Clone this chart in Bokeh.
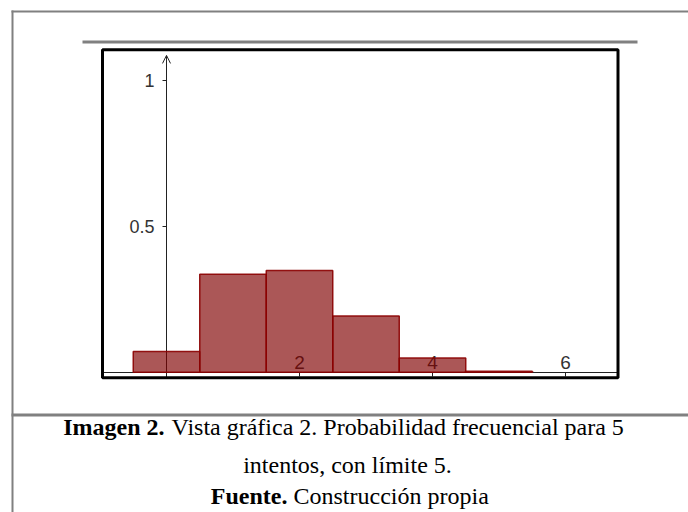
from bokeh.plotting import figure
from bokeh.models import (Range1d, LinearAxis, FixedTicker, Arrow, OpenHead,
                          BoxAnnotation, Label, NumeralTickFormatter)
from bokeh.embed import file_html
from bokeh.resources import INLINE

# ---- data ----
outcomes = [0, 1, 2, 3, 4, 5]
probabilities = [0.071, 0.336, 0.349, 0.193, 0.049, 0.003]
x_ticks = [2, 4, 6]
x_tick_labels = ["2", "4", "6"]
y_ticks = [0.5, 1]
y_tick_labels = ["0.5", "1"]
caption1_bold = "Imagen 2."
caption1_text = "Vista gráfica 2. Probabilidad frecuencial para 5"
caption2_text = "intentos, con límite 5."
caption3_bold = "Fuente."
caption3_text = "Construcción propia"

# ---- layout constants (pixels) ----
W, H = 688, 512
X0_PX, PX_PER_X = 166.0, 66.5      # pixel column of x = 0, pixels per x unit
Y0_PX, PX_PER_Y = 371.7, 291.7     # pixel row of y = 0, pixels per y unit
BOX_L, BOX_R, BOX_T, BOX_B = 102.0, 617.5, 49.3, 377.2
ARROW_TOP = 1.086

AXIS_COLOR = "#222222"
LABEL_COLOR = "#333333"
GRAY = "#808080"
TICK_FONT = "'Liberation Sans Narrow', 'Liberation Sans', sans-serif"


def px_to_x(px):
    return (px - X0_PX) / PX_PER_X


def py_to_y(py):
    return (Y0_PX - py) / PX_PER_Y


p = figure(width=W, height=H, min_border=0,
           x_range=Range1d(px_to_x(0), px_to_x(W)),
           y_range=Range1d(py_to_y(H), py_to_y(0)),
           x_axis_location=None, y_axis_location=None,
           output_backend="svg", toolbar_location=None)
for g in p.grid:
    g.visible = False
p.background_fill_color = "white"
p.border_fill_color = "white"
p.outline_line_color = None

# bars
p.vbar(x=outcomes, top=probabilities, bottom=0, width=1,
       fill_color="#800000", fill_alpha=0.66,
       line_color="#8B0000", line_alpha=0.9, line_width=1.5)

# y axis through x = 0
yaxis = LinearAxis(fixed_location=0, ticker=FixedTicker(ticks=y_ticks),
                   formatter=NumeralTickFormatter(format="0.[0]"),
                   major_label_overrides=dict(zip([float(t) for t in y_ticks], y_tick_labels)),
                   axis_line_color=None,
                   major_tick_out=4, major_tick_in=0, major_tick_line_color=AXIS_COLOR,
                   minor_tick_line_color=None, major_label_standoff=8,
                   major_label_text_font=TICK_FONT,
                   major_label_text_font_size="18px",
                   major_label_text_color=LABEL_COLOR, level="underlay")
p.add_layout(yaxis, "left")

# x axis through y = 0 (labels above the line, ticks downward), limited to the box
xaxis = LinearAxis(fixed_location=0, ticker=FixedTicker(ticks=x_ticks),
                   bounds=(px_to_x(BOX_L), px_to_x(BOX_R)),
                   major_label_overrides=dict(zip([float(t) for t in x_ticks], x_tick_labels)),
                   axis_line_color=AXIS_COLOR, axis_line_width=1,
                   major_tick_out=0, major_tick_in=4, major_tick_line_color=AXIS_COLOR,
                   minor_tick_line_color=None, major_label_standoff=3,
                   major_label_text_font=TICK_FONT,
                   major_label_text_font_size="19px",
                   major_label_text_color=LABEL_COLOR, level="underlay")
p.add_layout(xaxis, "above")

# arrow on the y axis
p.add_layout(Arrow(end=OpenHead(size=8, line_width=1, line_color=AXIS_COLOR),
                   x_start=0, y_start=py_to_y(BOX_B), x_end=0, y_end=ARROW_TOP,
                   line_width=1, line_color=AXIS_COLOR, level="underlay"))


def box(l, r, t, b, fill=GRAY, line=None, lw=0):
    p.add_layout(BoxAnnotation(left=l, right=r, top=t, bottom=b,
                               left_units="canvas", right_units="canvas",
                               top_units="canvas", bottom_units="canvas",
                               fill_color=fill, fill_alpha=1 if fill else 0,
                               line_color=line, line_width=lw, line_alpha=1,
                               level="overlay"))


# chart frame
box(BOX_L, BOX_R, BOX_T, BOX_B, fill=None, line="black", lw=3)
# page decorations
box(11, W, 10, 12)          # outer top border
box(11, 13, 10, H)          # outer left border
box(11, W, 413, 416)        # separator above caption
box(82, 637, 40, 43)        # gray rule above chart


def lab(x, y, text, bold=False, align="left"):
    p.add_layout(Label(x=x, y=y, x_units="canvas", y_units="canvas", text=text,
                       text_font="Liberation Serif", text_font_size="24px",
                       text_font_style="bold" if bold else "normal",
                       text_align=align, text_baseline="alphabetic",
                       text_color="black"))


lab(164, 426, caption1_bold, bold=True, align="right")
lab(171, 426, caption1_text)
lab(347, 464, caption2_text, align="center")
lab(287, 495, caption3_bold, bold=True, align="right")
lab(293, 495, caption3_text)

open("out.html", "w").write(file_html(p, INLINE))
